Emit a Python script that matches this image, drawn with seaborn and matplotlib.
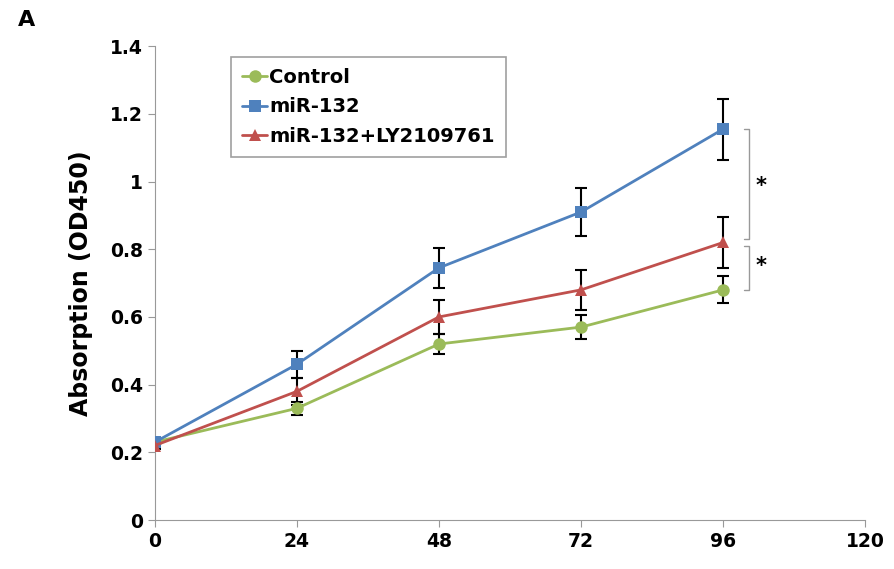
import numpy as np
import pandas as pd
import matplotlib
matplotlib.use('Agg')
import matplotlib.pyplot as plt
import seaborn as sns

hours = [0, 24, 48, 72, 96]
groups = ['Control', 'miR-132', 'miR-132+LY2109761']
control = [0.23, 0.33, 0.52, 0.57, 0.68]
control_err = [0.01, 0.02, 0.03, 0.035, 0.04]
mir132 = [0.23, 0.46, 0.745, 0.91, 1.155]
mir132_err = [0.01, 0.04, 0.06, 0.07, 0.09]
mir132_ly = [0.22, 0.38, 0.60, 0.68, 0.82]
mir132_ly_err = [0.01, 0.04, 0.05, 0.06, 0.075]

colors = {'Control': '#9bbb59', 'miR-132': '#4f81bd', 'miR-132+LY2109761': '#c0504d'}
markers = {'Control': 'o', 'miR-132': 's', 'miR-132+LY2109761': '^'}

vals = {'Control': (control, control_err),
        'miR-132': (mir132, mir132_err),
        'miR-132+LY2109761': (mir132_ly, mir132_ly_err)}

rows = []
for g in groups:
    for h, v, e in zip(hours, vals[g][0], vals[g][1]):
        rows.append({'time': h, 'value': v, 'err': e, 'group': g})
df = pd.DataFrame(rows)

sns.set_style('white')
plt.rcParams['font.family'] = ['DejaVu Sans']
plt.rcParams['text.color'] = 'black'
plt.rcParams['xtick.color'] = 'black'
plt.rcParams['ytick.color'] = 'black'
plt.rcParams['axes.labelcolor'] = 'black'

fig = plt.figure(figsize=(8.94, 5.69), dpi=100)
ax = fig.add_axes([0.173, 0.086, 0.795, 0.833])

# error bars first, so the lines sit on top
for g in groups:
    sub = df[df['group'] == g]
    ax.errorbar(sub['time'], sub['value'], yerr=sub['err'], fmt='none',
                ecolor='black', elinewidth=1.5, capsize=4, capthick=1.5, zorder=2)

sns.lineplot(data=df, x='time', y='value', hue='group', style='group',
             palette=colors, markers=markers, dashes=False, markersize=9,
             markeredgewidth=0, linewidth=2, ax=ax, zorder=3)

ax.set_xlim(0, 120)
ax.set_ylim(0, 1.4)
ax.set_xticks([0, 24, 48, 72, 96, 120])
ax.set_yticks([0, 0.2, 0.4, 0.6, 0.8, 1.0, 1.2, 1.4])
ax.set_yticklabels(['0', '0.2', '0.4', '0.6', '0.8', '1', '1.2', '1.4'])
ax.tick_params(axis='both', labelsize=13.5, direction='out', length=5,
               color='#999999', labelcolor='black', left=True, bottom=True)
for lab in ax.get_xticklabels() + ax.get_yticklabels():
    lab.set_fontweight('bold')
ax.set_xlabel('')
ax.set_ylabel('Absorption (OD450)', fontsize=17, fontweight='bold', labelpad=12)
sns.despine(ax=ax)
for s in ['left', 'bottom']:
    ax.spines[s].set_color('#999999')

leg = ax.legend(loc='upper left', bbox_to_anchor=(0.108, 0.977), borderaxespad=0,
                frameon=True, fancybox=False, edgecolor='#888888',
                handlelength=1.3, handletextpad=0.1, borderpad=0.55,
                labelspacing=0.55, prop={'weight': 'bold', 'size': 14})
leg.get_frame().set_linewidth(1.2)

# significance brackets
bx = 100.3
ax.plot([bx - 0.8, bx, bx, bx - 0.8], [mir132[-1], mir132[-1], mir132_ly[-1] + 0.01, mir132_ly[-1] + 0.01],
        color='#999999', lw=1, clip_on=False)
ax.plot([bx - 0.8, bx, bx, bx - 0.8], [mir132_ly[-1] - 0.01, mir132_ly[-1] - 0.01, control[-1], control[-1]],
        color='#999999', lw=1, clip_on=False)
ax.text(bx + 1.2, (mir132[-1] + mir132_ly[-1]) / 2, '*', fontsize=15, fontweight='bold', va='center')
ax.text(bx + 1.2, (mir132_ly[-1] + control[-1]) / 2, '*', fontsize=15, fontweight='bold', va='center')

fig.text(0.02, 0.955, 'A', fontsize=16, fontweight='bold')

fig.savefig('out.png', dpi=100)
